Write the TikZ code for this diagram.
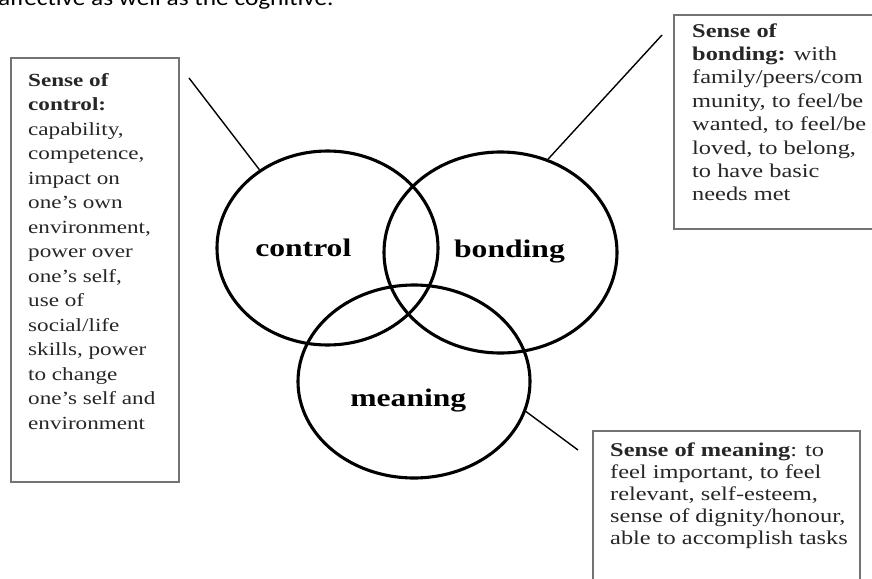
\documentclass[tikz,border=0pt]{standalone}
\usepackage{fontspec}
\usetikzlibrary{shapes.geometric}
\newfontfamily\boxfont[FakeStretch=1.25]{Liberation Serif}
\newfontfamily\topfont[FakeStretch=1.15]{Carlito}
\begin{document}
\begin{tikzpicture}[x=1pt,y=-1pt,
  venn/.style={draw, ellipse, line width=3.1pt, inner sep=0pt},
  vlabel/.style={font=\boxfont\bfseries\fontsize{25.3}{28}\selectfont, anchor=base, inner sep=0pt},
  infobox/.style={draw=black!55, line width=1.8pt, rectangle, inner sep=0pt, anchor=north west},
  infotext/.style={anchor=base west, inner sep=0pt, align=left, text=black!85},
  link/.style={line width=1.4pt}]
\useasboundingbox (0,0) rectangle (872,578);
\clip (0,0) rectangle (872,578);

\node[anchor=base west, inner sep=0pt, font=\topfont\fontsize{22}{26}\selectfont] (toptext) at (-2,5.5) {affective as well as the cognitive.};

% Venn ellipses
\node[venn, minimum width=221pt, minimum height=194pt] (control) at (327.5,248) {};
\node[venn, minimum width=233pt, minimum height=201pt] (bonding) at (500.5,252.5) {};
\node[venn, minimum width=232pt, minimum height=193pt] (meaning) at (414,381.5) {};

\node[vlabel] (controllabel) at (303.3,256) {control};
\node[vlabel] (bondinglabel) at (509.5,257.7) {bonding};
\node[vlabel] (meaninglabel) at (408.3,406.7) {meaning};

% boxes
\node[infobox, minimum width=168pt, minimum height=424pt] (controlbox) at (10,57) {};
\node[infobox, minimum width=220pt, minimum height=214pt] (bondingbox) at (673,14) {};
\node[infobox, minimum width=267pt, minimum height=170pt] (meaningbox) at (592,430) {};

% texts (anchored at the baseline of their last line)
\node[infotext, font=\boxfont\fontsize{18.5}{24.5}\selectfont] (controltext) at (28,429)
  {\textbf{Sense of}\\\textbf{control:}\\capability,\\competence,\\impact on\\one’s own\\environment,\\power over\\one’s self,\\use of\\social/life\\skills, power\\to change\\one’s self and\\environment};
\node[infotext, font=\boxfont\fontsize{19.5}{23.4}\selectfont] (bondingtext) at (692,200.8)
  {\textbf{Sense of}\\\textbf{bonding:} with\\family/peers/com\\munity, to feel/be\\wanted, to feel/be\\loved, to belong,\\to have basic\\needs met};
\node[infotext, font=\boxfont\fontsize{19.5}{22}\selectfont] (meaningtext) at (610,544)
  {\textbf{Sense of meaning}: to\\feel important, to feel\\relevant, self-esteem,\\sense of dignity/honour,\\able to accomplish tasks};

% connectors
\coordinate (controlend) at (189,78);
\coordinate (bondingend) at (662,35);
\coordinate (meaningend) at (578,450);
\draw[link] (controlend) -- (control.131);
\draw[link] (bondingend) -- (bonding.63.6);
\draw[link] (meaningend) -- (meaning.-15.4);
\end{tikzpicture}
\end{document}
